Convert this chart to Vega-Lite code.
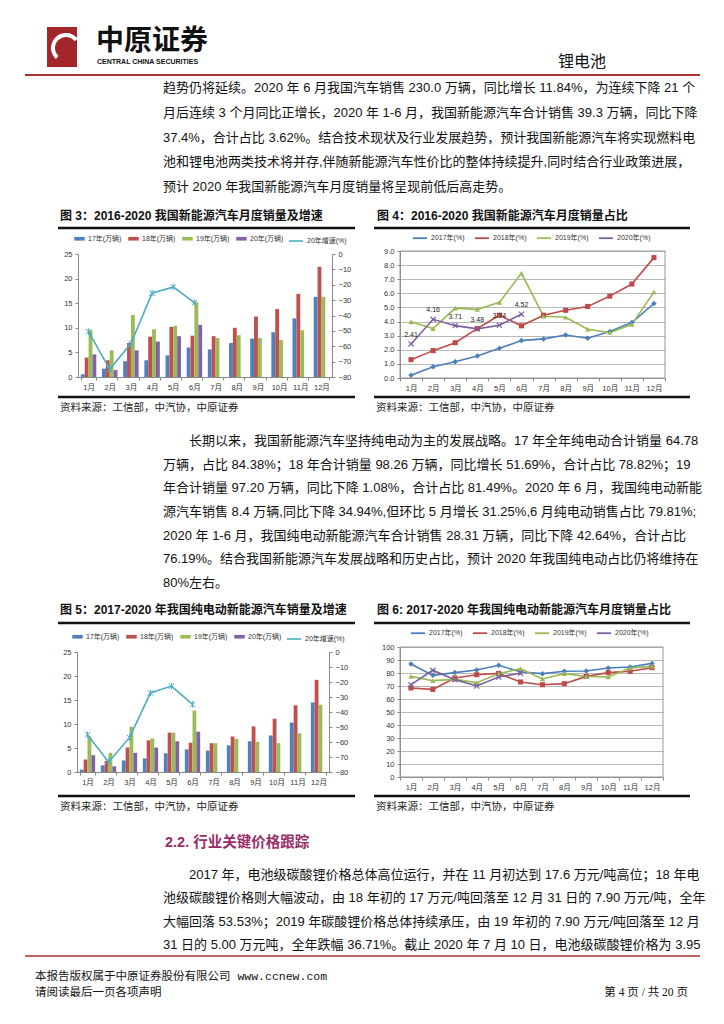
{
  "$schema": "https://vega.github.io/schema/vega-lite/v6.json",
  "width": 724, "height": 1024,
  "autosize": "none",
  "padding": 0,
  "background": "white",
  "config": {
    "view": {"stroke": null},
    "font": "Liberation Sans, Noto Sans CJK SC",
    "axis": {"labelFont": "Liberation Sans, Noto Sans CJK SC", "labelFontSize": 7.5, "labelColor": "#333", "domainColor": "#888", "tickColor": "#888", "tickSize": 3, "title": null, "labelFlush": false, "labelOverlap": false, "labelPadding": 3},
    "legend": {"labelFont": "Liberation Sans, Noto Sans CJK SC", "labelFontSize": 7, "labelColor": "#333", "title": null, "orient": "none", "direction": "horizontal", "columnPadding": 6, "labelOffset": 3}
  },
  "datasets": {
    "c3": [
      {"m":"1月","s":"17年(万辆)","v":0.55},{"m":"2月","s":"17年(万辆)","v":1.7},{"m":"3月","s":"17年(万辆)","v":3.2},{"m":"4月","s":"17年(万辆)","v":3.4},{"m":"5月","s":"17年(万辆)","v":4.4},{"m":"6月","s":"17年(万辆)","v":6.0},{"m":"7月","s":"17年(万辆)","v":5.6},{"m":"8月","s":"17年(万辆)","v":6.9},{"m":"9月","s":"17年(万辆)","v":7.8},{"m":"10月","s":"17年(万辆)","v":9.1},{"m":"11月","s":"17年(万辆)","v":11.9},{"m":"12月","s":"17年(万辆)","v":16.3},
      {"m":"1月","s":"18年(万辆)","v":3.95},{"m":"2月","s":"18年(万辆)","v":3.4},{"m":"3月","s":"18年(万辆)","v":6.9},{"m":"4月","s":"18年(万辆)","v":8.2},{"m":"5月","s":"18年(万辆)","v":10.2},{"m":"6月","s":"18年(万辆)","v":8.4},{"m":"7月","s":"18年(万辆)","v":8.3},{"m":"8月","s":"18年(万辆)","v":10.0},{"m":"9月","s":"18年(万辆)","v":12.3},{"m":"10月","s":"18年(万辆)","v":13.8},{"m":"11月","s":"18年(万辆)","v":16.9},{"m":"12月","s":"18年(万辆)","v":22.4},
      {"m":"1月","s":"19年(万辆)","v":9.5},{"m":"2月","s":"19年(万辆)","v":5.4},{"m":"3月","s":"19年(万辆)","v":12.6},{"m":"4月","s":"19年(万辆)","v":9.7},{"m":"5月","s":"19年(万辆)","v":10.4},{"m":"6月","s":"19年(万辆)","v":15.2},{"m":"7月","s":"19年(万辆)","v":7.9},{"m":"8月","s":"19年(万辆)","v":8.5},{"m":"9月","s":"19年(万辆)","v":7.9},{"m":"10月","s":"19年(万辆)","v":7.5},{"m":"11月","s":"19年(万辆)","v":9.5},{"m":"12月","s":"19年(万辆)","v":16.3},
      {"m":"1月","s":"20年(万辆)","v":4.6},{"m":"2月","s":"20年(万辆)","v":1.4},{"m":"3月","s":"20年(万辆)","v":5.4},{"m":"4月","s":"20年(万辆)","v":7.2},{"m":"5月","s":"20年(万辆)","v":8.3},{"m":"6月","s":"20年(万辆)","v":10.6}
    ],
    "c3g": [
      {"m":"1月","s":"20年增速(%)","g":-50.5},{"m":"2月","s":"20年增速(%)","g":-75},{"m":"3月","s":"20年增速(%)","g":-58.2},{"m":"4月","s":"20年增速(%)","g":-25.5},{"m":"5月","s":"20年增速(%)","g":-21.4},{"m":"6月","s":"20年增速(%)","g":-31.6}
    ],
    "c4": [
      {"m":"1月","s":"2017年(%)","v":0.2},{"m":"2月","s":"2017年(%)","v":0.8},{"m":"3月","s":"2017年(%)","v":1.15},{"m":"4月","s":"2017年(%)","v":1.56},{"m":"5月","s":"2017年(%)","v":2.1},{"m":"6月","s":"2017年(%)","v":2.65},{"m":"7月","s":"2017年(%)","v":2.77},{"m":"8月","s":"2017年(%)","v":3.05},{"m":"9月","s":"2017年(%)","v":2.82},{"m":"10月","s":"2017年(%)","v":3.3},{"m":"11月","s":"2017年(%)","v":3.93},{"m":"12月","s":"2017年(%)","v":5.28},
      {"m":"1月","s":"2018年(%)","v":1.3},{"m":"2月","s":"2018年(%)","v":1.94},{"m":"3月","s":"2018年(%)","v":2.5},{"m":"4月","s":"2018年(%)","v":3.5},{"m":"5月","s":"2018年(%)","v":4.45},{"m":"6月","s":"2018年(%)","v":3.7},{"m":"7月","s":"2018年(%)","v":4.45},{"m":"8月","s":"2018年(%)","v":4.8},{"m":"9月","s":"2018年(%)","v":5.07},{"m":"10月","s":"2018年(%)","v":5.8},{"m":"11月","s":"2018年(%)","v":6.66},{"m":"12月","s":"2018年(%)","v":8.53},
      {"m":"1月","s":"2019年(%)","v":3.98},{"m":"2月","s":"2019年(%)","v":3.5},{"m":"3月","s":"2019年(%)","v":4.95},{"m":"4月","s":"2019年(%)","v":4.86},{"m":"5月","s":"2019年(%)","v":5.36},{"m":"6月","s":"2019年(%)","v":7.42},{"m":"7月","s":"2019年(%)","v":4.38},{"m":"8月","s":"2019年(%)","v":4.31},{"m":"9月","s":"2019年(%)","v":3.46},{"m":"10月","s":"2019年(%)","v":3.22},{"m":"11月","s":"2019年(%)","v":3.8},{"m":"12月","s":"2019年(%)","v":6.1},
      {"m":"1月","s":"2020年(%)","v":2.41},{"m":"2月","s":"2020年(%)","v":4.16},{"m":"3月","s":"2020年(%)","v":3.71},{"m":"4月","s":"2020年(%)","v":3.48},{"m":"5月","s":"2020年(%)","v":3.74},{"m":"6月","s":"2020年(%)","v":4.52}
    ],
    "c5": [
      {"m":"1月","s":"17年(万辆)","v":0.5},{"m":"2月","s":"17年(万辆)","v":1.4},{"m":"3月","s":"17年(万辆)","v":2.4},{"m":"4月","s":"17年(万辆)","v":2.85},{"m":"5月","s":"17年(万辆)","v":3.9},{"m":"6月","s":"17年(万辆)","v":4.7},{"m":"7月","s":"17年(万辆)","v":4.45},{"m":"8月","s":"17年(万辆)","v":5.55},{"m":"9月","s":"17年(万辆)","v":6.4},{"m":"10月","s":"17年(万辆)","v":7.6},{"m":"11月","s":"17年(万辆)","v":10.3},{"m":"12月","s":"17年(万辆)","v":14.5},
      {"m":"1月","s":"18年(万辆)","v":2.6},{"m":"2月","s":"18年(万辆)","v":2.3},{"m":"3月","s":"18年(万辆)","v":5.1},{"m":"4月","s":"18年(万辆)","v":6.6},{"m":"5月","s":"18年(万辆)","v":8.2},{"m":"6月","s":"18年(万辆)","v":6.1},{"m":"7月","s":"18年(万辆)","v":6.0},{"m":"8月","s":"18年(万辆)","v":7.4},{"m":"9月","s":"18年(万辆)","v":9.5},{"m":"10月","s":"18年(万辆)","v":11.1},{"m":"11月","s":"18年(万辆)","v":13.9},{"m":"12月","s":"18年(万辆)","v":19.2},
      {"m":"1月","s":"19年(万辆)","v":7.4},{"m":"2月","s":"19年(万辆)","v":4.0},{"m":"3月","s":"19年(万辆)","v":9.4},{"m":"4月","s":"19年(万辆)","v":7.0},{"m":"5月","s":"19年(万辆)","v":8.2},{"m":"6月","s":"19年(万辆)","v":12.8},{"m":"7月","s":"19年(万辆)","v":6.0},{"m":"8月","s":"19年(万辆)","v":6.9},{"m":"9月","s":"19年(万辆)","v":6.25},{"m":"10月","s":"19年(万辆)","v":6.0},{"m":"11月","s":"19年(万辆)","v":8.05},{"m":"12月","s":"19年(万辆)","v":14.0},
      {"m":"1月","s":"20年(万辆)","v":3.5},{"m":"2月","s":"20年(万辆)","v":1.2},{"m":"3月","s":"20年(万辆)","v":4.0},{"m":"4月","s":"20年(万辆)","v":5.1},{"m":"5月","s":"20年(万辆)","v":6.4},{"m":"6月","s":"20年(万辆)","v":8.4}
    ],
    "c5g": [
      {"m":"1月","s":"20年增速(%)","g":-55.1},{"m":"2月","s":"20年增速(%)","g":-73.3},{"m":"3月","s":"20年增速(%)","g":-57.1},{"m":"4月","s":"20年增速(%)","g":-27.3},{"m":"5月","s":"20年增速(%)","g":-22.7},{"m":"6月","s":"20年增速(%)","g":-34.9}
    ],
    "c6": [
      {"m":"1月","s":"2017年(%)","v":86.9},{"m":"2月","s":"2017年(%)","v":78.2},{"m":"3月","s":"2017年(%)","v":80.3},{"m":"4月","s":"2017年(%)","v":82.3},{"m":"5月","s":"2017年(%)","v":85.9},{"m":"6月","s":"2017年(%)","v":80.8},{"m":"7月","s":"2017年(%)","v":79.5},{"m":"8月","s":"2017年(%)","v":81.3},{"m":"9月","s":"2017年(%)","v":81.5},{"m":"10月","s":"2017年(%)","v":83.8},{"m":"11月","s":"2017年(%)","v":84.6},{"m":"12月","s":"2017年(%)","v":87.4},
      {"m":"1月","s":"2018年(%)","v":68.5},{"m":"2月","s":"2018年(%)","v":67.4},{"m":"3月","s":"2018年(%)","v":76.2},{"m":"4月","s":"2018年(%)","v":78.7},{"m":"5月","s":"2018年(%)","v":79.7},{"m":"6月","s":"2018年(%)","v":73.1},{"m":"7月","s":"2018年(%)","v":71.0},{"m":"8月","s":"2018年(%)","v":71.8},{"m":"9月","s":"2018年(%)","v":77.4},{"m":"10月","s":"2018年(%)","v":80.3},{"m":"11月","s":"2018年(%)","v":81.3},{"m":"12月","s":"2018年(%)","v":84.1},
      {"m":"1月","s":"2019年(%)","v":77.4},{"m":"2月","s":"2019年(%)","v":74.1},{"m":"3月","s":"2019年(%)","v":75.1},{"m":"4月","s":"2019年(%)","v":72.6},{"m":"5月","s":"2019年(%)","v":79.5},{"m":"6月","s":"2019年(%)","v":83.3},{"m":"7月","s":"2019年(%)","v":75.4},{"m":"8月","s":"2019年(%)","v":79.5},{"m":"9月","s":"2019年(%)","v":77.4},{"m":"10月","s":"2019年(%)","v":76.9},{"m":"11月","s":"2019年(%)","v":83.8},{"m":"12月","s":"2019年(%)","v":85.1},
      {"m":"1月","s":"2020年(%)","v":71.0},{"m":"2月","s":"2020年(%)","v":82.1},{"m":"3月","s":"2020年(%)","v":74.9},{"m":"4月","s":"2020年(%)","v":70.0},{"m":"5月","s":"2020年(%)","v":76.9},{"m":"6月","s":"2020年(%)","v":79.8}
    ]
  },
  "layer": [
    {"data": {"values": [{}]}, "mark": {"type": "rect", "color": "#A3262A"}, "encoding": {"x": {"value": 47}, "x2": {"value": 77}, "y": {"value": 27}, "y2": {"value": 67}}},
    {"data": {"values": [{}]}, "mark": {"type": "arc", "color": "white", "radius": 15, "radius2": 11, "theta": -2.4, "theta2": 0.9}, "encoding": {"x": {"value": 66}, "y": {"value": 48}}},
    {"data": {"values": [{"t": "中原证券"}]}, "mark": {"type": "text", "align": "left", "baseline": "middle", "fontSize": 28, "fontWeight": "bold", "font": "Noto Sans CJK SC", "color": "#111"}, "encoding": {"x": {"value": 96}, "y": {"value": 42}, "text": {"field": "t"}}},
    {"data": {"values": [{"t": "CENTRAL CHINA SECURITIES"}]}, "mark": {"type": "text", "align": "left", "baseline": "middle", "fontSize": 7, "fontWeight": "bold", "font": "Liberation Sans", "color": "#111"}, "encoding": {"x": {"value": 97}, "y": {"value": 62}, "text": {"field": "t"}}},
    {"data": {"values": [{"t": "锂电池"}]}, "mark": {"type": "text", "align": "center", "baseline": "middle", "fontSize": 16, "font": "Noto Sans CJK SC", "color": "#111"}, "encoding": {"x": {"value": 582}, "y": {"value": 62}, "text": {"field": "t"}}},
    {"data": {"values": [{}]}, "mark": {"type": "rule", "color": "#A8322D", "strokeWidth": 2}, "encoding": {"x": {"value": 25}, "x2": {"value": 700}, "y": {"value": 75}}},
    {
      "data": {"values": [
        {"line": 1, "t": "趋势仍将延续。2020 年 6 月我国汽车销售 230.0 万辆，同比增长 11.84%，为连续下降 21 个"},
        {"line": 2, "t": "月后连续 3 个月同比正增长，2020 年 1-6 月，我国新能源汽车合计销售 39.3 万辆，同比下降"},
        {"line": 3, "t": "37.4%，合计占比 3.62%。结合技术现状及行业发展趋势，预计我国新能源汽车将实现燃料电"},
        {"line": 4, "t": "池和锂电池两类技术将并存,伴随新能源汽车性价比的整体持续提升,同时结合行业政策进展，"},
        {"line": 5, "t": "预计 2020 年我国新能源汽车月度销量将呈现前低后高走势。"}
      ]},
      "mark": {"type": "text", "align": "left", "baseline": "middle", "fontSize": 13, "color": "#111"},
      "encoding": {
        "x": {"value": 163},
        "y": {"field": "line", "type": "quantitative", "scale": {"domain": [1, 5], "range": [88, 187], "nice": false, "zero": false}, "axis": null},
        "text": {"field": "t"}
      }
    },
    {"data": {"values": [{"t": "图 3：2016-2020 我国新能源汽车月度销量及增速"}]}, "mark": {"type": "text", "align": "left", "baseline": "middle", "fontSize": 12, "fontWeight": "bold", "color": "#111"}, "encoding": {"x": {"value": 60}, "y": {"value": 216}, "text": {"field": "t"}}},
    {"data": {"values": [{"t": "图 4：2016-2020 我国新能源汽车月度销量占比"}]}, "mark": {"type": "text", "align": "left", "baseline": "middle", "fontSize": 12, "fontWeight": "bold", "color": "#111"}, "encoding": {"x": {"value": 377}, "y": {"value": 216}, "text": {"field": "t"}}},
    {"data": {"values": [{}]}, "mark": {"type": "rule", "color": "#111", "strokeWidth": 2.5}, "encoding": {"x": {"value": 58}, "x2": {"value": 355}, "y": {"value": 228}}},
    {"data": {"values": [{}]}, "mark": {"type": "rule", "color": "#111", "strokeWidth": 2.5}, "encoding": {"x": {"value": 374}, "x2": {"value": 690}, "y": {"value": 228}}},
    {
      "layer": [
        {
          "data": {"name": "c3"},
          "mark": {"type": "bar"},
          "encoding": {
            "x": {"field": "m", "type": "nominal", "scale": {"domain": ["1月","2月","3月","4月","5月","6月","7月","8月","9月","10月","11月","12月"], "range": [78, 332], "paddingInner": 0.27, "paddingOuter": 0.135}, "axis": {"orient": "bottom", "offset": -647, "labelAngle": 0, "tickBand": "extent"}},
            "xOffset": {"field": "s", "type": "nominal", "scale": {"domain": ["17年(万辆)","18年(万辆)","19年(万辆)","20年(万辆)"], "paddingInner": 0, "paddingOuter": 0}},
            "y": {"field": "v", "type": "quantitative", "scale": {"domain": [0, 25], "range": [377, 254], "nice": false, "zero": false}, "axis": {"orient": "left", "offset": -78, "values": [0,5,10,15,20,25], "grid": false}},
            "fill": {"field": "s", "type": "nominal", "scale": {"domain": ["17年(万辆)","18年(万辆)","19年(万辆)","20年(万辆)"], "range": ["#4F81BD","#C0504D","#9BBB59","#8064A2"]}, "legend": {"legendX": 74, "legendY": 233, "symbolType": "M-1,-0.35H1V0.35H-1Z", "symbolSize": 110, "symbolStrokeWidth": 0}}
          }
        },
        {
          "data": {"name": "c3g"},
          "mark": {"type": "line", "strokeWidth": 1.6, "point": {"shape": "M-1,-1L1,1M1,-1L-1,1M0,-1.2L0,1.2", "filled": false, "size": 30, "strokeWidth": 1}},
          "encoding": {
            "x": {"field": "m", "type": "nominal", "scale": {"domain": ["1月","2月","3月","4月","5月","6月","7月","8月","9月","10月","11月","12月"], "range": [78, 332], "paddingInner": 0.27, "paddingOuter": 0.135}, "axis": {"orient": "bottom", "offset": -647, "labelAngle": 0, "tickBand": "extent"}},
            "y": {"field": "g", "type": "quantitative", "scale": {"domain": [-80, 0], "range": [377, 254], "nice": false, "zero": false}, "axis": {"orient": "right", "offset": -392, "values": [0,-10,-20,-30,-40,-50,-60,-70,-80], "grid": false}},
            "stroke": {"field": "s", "type": "nominal", "scale": {"range": ["#4BACC6"]}, "legend": {"legendX": 288, "legendY": 233, "symbolType": "stroke", "symbolStrokeWidth": 1.6, "symbolSize": 200}}
          }
        }
      ],
      "resolve": {"scale": {"y": "independent"}}
    },
    {"data": {"values": [{}]}, "mark": {"type": "rect", "fill": null, "stroke": "#999", "strokeWidth": 1}, "encoding": {"x": {"value": 400}, "x2": {"value": 665}, "y": {"value": 251}, "y2": {"value": 378}}},
    {
      "data": {"name": "c4"},
      "encoding": {
        "x": {"field": "m", "type": "nominal", "scale": {"domain": ["1月","2月","3月","4月","5月","6月","7月","8月","9月","10月","11月","12月"], "range": [400, 665]}, "axis": {"orient": "bottom", "offset": -646, "labelAngle": 0, "tickBand": "extent"}},
        "y": {"field": "v", "type": "quantitative", "scale": {"domain": [0, 9], "range": [378, 251], "nice": false, "zero": false}, "axis": {"orient": "left", "offset": -400, "values": [0,1,2,3,4,5,6,7,8,9], "format": ".1f", "grid": true, "gridColor": "#999", "gridWidth": 0.7}}
      },
      "layer": [
        {
          "mark": {"type": "line", "strokeWidth": 1.6},
          "encoding": {
            "color": {"field": "s", "type": "nominal", "scale": {"domain": ["2017年(%)","2018年(%)","2019年(%)","2020年(%)"], "range": ["#4A7EBB","#BE4B48","#98B954","#7D60A0"]}, "legend": {"legendX": 412, "legendY": 230, "symbolType": "stroke", "symbolStrokeWidth": 1.8, "symbolSize": 200}}
          }
        },
        {"transform": [{"filter": "datum.s === '2017年(%)'"}], "mark": {"type": "point", "shape": "diamond", "filled": true, "size": 30, "opacity": 1, "color": "#4A7EBB"}},
        {"transform": [{"filter": "datum.s === '2018年(%)'"}], "mark": {"type": "point", "shape": "square", "filled": true, "size": 26, "opacity": 1, "color": "#BE4B48"}},
        {"transform": [{"filter": "datum.s === '2019年(%)'"}], "mark": {"type": "point", "shape": "triangle-up", "filled": true, "size": 28, "opacity": 1, "color": "#98B954"}},
        {"transform": [{"filter": "datum.s === '2020年(%)'"}], "mark": {"type": "point", "shape": "M-1,-1L1,1M1,-1L-1,1", "filled": false, "size": 26, "opacity": 1, "strokeWidth": 1.2, "color": "#7D60A0"}},
        {
          "transform": [{"filter": "datum.s === '2020年(%)'"}],
          "mark": {"type": "text", "dy": -9, "fontSize": 7, "color": "#222"},
          "encoding": {"text": {"field": "v", "type": "quantitative", "format": ".2f"}}
        }
      ]
    },
    {"data": {"values": [{}]}, "mark": {"type": "rule", "color": "#111", "strokeWidth": 2.5}, "encoding": {"x": {"value": 58}, "x2": {"value": 355}, "y": {"value": 397}}},
    {"data": {"values": [{}]}, "mark": {"type": "rule", "color": "#111", "strokeWidth": 2.5}, "encoding": {"x": {"value": 374}, "x2": {"value": 690}, "y": {"value": 397}}},
    {"data": {"values": [{"t": "资料来源：工信部，中汽协，中原证券"}]}, "mark": {"type": "text", "align": "left", "baseline": "middle", "fontSize": 10.5, "color": "#222"}, "encoding": {"x": {"value": 60}, "y": {"value": 408}, "text": {"field": "t"}}},
    {"data": {"values": [{"t": "资料来源：工信部，中汽协，中原证券"}]}, "mark": {"type": "text", "align": "left", "baseline": "middle", "fontSize": 10.5, "color": "#222"}, "encoding": {"x": {"value": 376}, "y": {"value": 408}, "text": {"field": "t"}}},
    {"data": {"values": [{"t": "长期以来，我国新能源汽车坚持纯电动为主的发展战略。17 年全年纯电动合计销量 64.78"}]}, "mark": {"type": "text", "align": "left", "baseline": "middle", "fontSize": 13, "color": "#111"}, "encoding": {"x": {"value": 189}, "y": {"value": 441}, "text": {"field": "t"}}},
    {
      "data": {"values": [
        {"line": 2, "t": "万辆，占比 84.38%；18 年合计销量 98.26 万辆，同比增长 51.69%，合计占比 78.82%；19"},
        {"line": 3, "t": "年合计销量 97.20 万辆，同比下降 1.08%，合计占比 81.49%。2020 年 6 月，我国纯电动新能"},
        {"line": 4, "t": "源汽车销售 8.4 万辆,同比下降 34.94%,但环比 5 月增长 31.25%,6 月纯电动销售占比 79.81%;"},
        {"line": 5, "t": "2020 年 1-6 月，我国纯电动新能源汽车合计销售 28.31 万辆，同比下降 42.64%，合计占比"},
        {"line": 6, "t": "76.19%。结合我国新能源汽车发展战略和历史占比，预计 2020 年我国纯电动占比仍将维持在"},
        {"line": 7, "t": "80%左右。"}
      ]},
      "mark": {"type": "text", "align": "left", "baseline": "middle", "fontSize": 13, "color": "#111"},
      "encoding": {
        "x": {"value": 163},
        "y": {"field": "line", "type": "quantitative", "scale": {"domain": [2, 7], "range": [464.7, 583], "nice": false, "zero": false}, "axis": null},
        "text": {"field": "t"}
      }
    },
    {"data": {"values": [{"t": "图 5：2017-2020 年我国纯电动新能源汽车销量及增速"}]}, "mark": {"type": "text", "align": "left", "baseline": "middle", "fontSize": 12, "fontWeight": "bold", "color": "#111"}, "encoding": {"x": {"value": 60}, "y": {"value": 610}, "text": {"field": "t"}}},
    {"data": {"values": [{"t": "图 6: 2017-2020 年我国纯电动新能源汽车月度销量占比"}]}, "mark": {"type": "text", "align": "left", "baseline": "middle", "fontSize": 12, "fontWeight": "bold", "color": "#111"}, "encoding": {"x": {"value": 377}, "y": {"value": 610}, "text": {"field": "t"}}},
    {"data": {"values": [{}]}, "mark": {"type": "rule", "color": "#111", "strokeWidth": 2.5}, "encoding": {"x": {"value": 58}, "x2": {"value": 355}, "y": {"value": 623}}},
    {"data": {"values": [{}]}, "mark": {"type": "rule", "color": "#111", "strokeWidth": 2.5}, "encoding": {"x": {"value": 374}, "x2": {"value": 690}, "y": {"value": 623}}},
    {
      "layer": [
        {
          "data": {"name": "c5"},
          "mark": {"type": "bar"},
          "encoding": {
            "x": {"field": "m", "type": "nominal", "scale": {"domain": ["1月","2月","3月","4月","5月","6月","7月","8月","9月","10月","11月","12月"], "range": [77, 329], "paddingInner": 0.27, "paddingOuter": 0.135}, "axis": {"orient": "bottom", "offset": -252, "labelAngle": 0, "tickBand": "extent"}},
            "xOffset": {"field": "s", "type": "nominal", "scale": {"domain": ["17年(万辆)","18年(万辆)","19年(万辆)","20年(万辆)"], "paddingInner": 0, "paddingOuter": 0}},
            "y": {"field": "v", "type": "quantitative", "scale": {"domain": [0, 25], "range": [772, 652], "nice": false, "zero": false}, "axis": {"orient": "left", "offset": -77, "values": [0,5,10,15,20,25], "grid": false}},
            "fill": {"field": "s", "type": "nominal", "scale": {"domain": ["17年(万辆)","18年(万辆)","19年(万辆)","20年(万辆)"], "range": ["#4F81BD","#C0504D","#9BBB59","#8064A2"]}, "legend": {"legendX": 72, "legendY": 631, "symbolType": "M-1,-0.35H1V0.35H-1Z", "symbolSize": 110, "symbolStrokeWidth": 0}}
          }
        },
        {
          "data": {"name": "c5g"},
          "mark": {"type": "line", "strokeWidth": 1.6, "point": {"shape": "M-1,-1L1,1M1,-1L-1,1M0,-1.2L0,1.2", "filled": false, "size": 30, "strokeWidth": 1}},
          "encoding": {
            "x": {"field": "m", "type": "nominal", "scale": {"domain": ["1月","2月","3月","4月","5月","6月","7月","8月","9月","10月","11月","12月"], "range": [77, 329], "paddingInner": 0.27, "paddingOuter": 0.135}, "axis": {"orient": "bottom", "offset": -252, "labelAngle": 0, "tickBand": "extent"}},
            "y": {"field": "g", "type": "quantitative", "scale": {"domain": [-80, 0], "range": [772, 652], "nice": false, "zero": false}, "axis": {"orient": "right", "offset": -395, "values": [0,-10,-20,-30,-40,-50,-60,-70,-80], "grid": false}},
            "stroke": {"field": "s", "type": "nominal", "scale": {"range": ["#4BACC6"]}, "legend": {"legendX": 286, "legendY": 631, "symbolType": "stroke", "symbolStrokeWidth": 1.6, "symbolSize": 200}}
          }
        }
      ],
      "resolve": {"scale": {"y": "independent"}}
    },
    {"data": {"values": [{}]}, "mark": {"type": "rect", "fill": null, "stroke": "#999", "strokeWidth": 1}, "encoding": {"x": {"value": 400}, "x2": {"value": 663}, "y": {"value": 647}, "y2": {"value": 777}}},
    {
      "data": {"name": "c6"},
      "encoding": {
        "x": {"field": "m", "type": "nominal", "scale": {"domain": ["1月","2月","3月","4月","5月","6月","7月","8月","9月","10月","11月","12月"], "range": [400, 663]}, "axis": {"orient": "bottom", "offset": -247, "labelAngle": 0, "tickBand": "extent"}},
        "y": {"field": "v", "type": "quantitative", "scale": {"domain": [0, 100], "range": [777, 647], "nice": false, "zero": false}, "axis": {"orient": "left", "offset": -400, "values": [0,10,20,30,40,50,60,70,80,90,100], "grid": true, "gridColor": "#999", "gridWidth": 0.7}}
      },
      "layer": [
        {
          "mark": {"type": "line", "strokeWidth": 1.6},
          "encoding": {
            "color": {"field": "s", "type": "nominal", "scale": {"domain": ["2017年(%)","2018年(%)","2019年(%)","2020年(%)"], "range": ["#4A7EBB","#BE4B48","#98B954","#7D60A0"]}, "legend": {"legendX": 410, "legendY": 625, "symbolType": "stroke", "symbolStrokeWidth": 1.8, "symbolSize": 200}}
          }
        },
        {"transform": [{"filter": "datum.s === '2017年(%)'"}], "mark": {"type": "point", "shape": "diamond", "filled": true, "size": 30, "opacity": 1, "color": "#4A7EBB"}},
        {"transform": [{"filter": "datum.s === '2018年(%)'"}], "mark": {"type": "point", "shape": "square", "filled": true, "size": 26, "opacity": 1, "color": "#BE4B48"}},
        {"transform": [{"filter": "datum.s === '2019年(%)'"}], "mark": {"type": "point", "shape": "triangle-up", "filled": true, "size": 28, "opacity": 1, "color": "#98B954"}},
        {"transform": [{"filter": "datum.s === '2020年(%)'"}], "mark": {"type": "point", "shape": "M-1,-1L1,1M1,-1L-1,1", "filled": false, "size": 26, "opacity": 1, "strokeWidth": 1.2, "color": "#7D60A0"}}
      ]
    },
    {"data": {"values": [{}]}, "mark": {"type": "rule", "color": "#111", "strokeWidth": 2.5}, "encoding": {"x": {"value": 58}, "x2": {"value": 355}, "y": {"value": 796}}},
    {"data": {"values": [{}]}, "mark": {"type": "rule", "color": "#111", "strokeWidth": 2.5}, "encoding": {"x": {"value": 374}, "x2": {"value": 690}, "y": {"value": 796}}},
    {"data": {"values": [{"t": "资料来源：工信部，中汽协，中原证券"}]}, "mark": {"type": "text", "align": "left", "baseline": "middle", "fontSize": 10.5, "color": "#222"}, "encoding": {"x": {"value": 60}, "y": {"value": 807}, "text": {"field": "t"}}},
    {"data": {"values": [{"t": "资料来源：工信部，中汽协，中原证券"}]}, "mark": {"type": "text", "align": "left", "baseline": "middle", "fontSize": 10.5, "color": "#222"}, "encoding": {"x": {"value": 376}, "y": {"value": 807}, "text": {"field": "t"}}},
    {"data": {"values": [{"t": "2.2. 行业关键价格跟踪"}]}, "mark": {"type": "text", "align": "left", "baseline": "middle", "fontSize": 14.5, "fontWeight": "bold", "color": "#9B2D6A"}, "encoding": {"x": {"value": 165}, "y": {"value": 843}, "text": {"field": "t"}}},
    {"data": {"values": [{"t": "2017 年，电池级碳酸锂价格总体高位运行，并在 11 月初达到 17.6 万元/吨高位；18 年电"}]}, "mark": {"type": "text", "align": "left", "baseline": "middle", "fontSize": 13, "color": "#111"}, "encoding": {"x": {"value": 189}, "y": {"value": 875}, "text": {"field": "t"}}},
    {
      "data": {"values": [
        {"line": 2, "t": "池级碳酸锂价格则大幅波动，由 18 年初的 17 万元/吨回落至 12 月 31 日的 7.90 万元/吨，全年"},
        {"line": 3, "t": "大幅回落 53.53%；2019 年碳酸锂价格总体持续承压，由 19 年初的 7.90 万元/吨回落至 12 月"},
        {"line": 4, "t": "31 日的 5.00 万元吨，全年跌幅 36.71%。截止 2020 年 7 月 10 日，电池级碳酸锂价格为 3.95"}
      ]},
      "mark": {"type": "text", "align": "left", "baseline": "middle", "fontSize": 13, "color": "#111"},
      "encoding": {
        "x": {"value": 163},
        "y": {"field": "line", "type": "quantitative", "scale": {"domain": [2, 4], "range": [898.3, 945], "nice": false, "zero": false}, "axis": null},
        "text": {"field": "t"}
      }
    },
    {"data": {"values": [{}]}, "mark": {"type": "rule", "color": "#A8322D", "strokeWidth": 1.5}, "encoding": {"x": {"value": 25}, "x2": {"value": 700}, "y": {"value": 956}}},
    {"data": {"values": [{"t": "本报告版权属于中原证券股份有限公司    www.ccnew.com"}]}, "mark": {"type": "text", "align": "left", "baseline": "middle", "fontSize": 11.5, "font": "Liberation Mono, Noto Sans CJK SC", "color": "#111"}, "encoding": {"x": {"value": 35}, "y": {"value": 977}, "text": {"field": "t"}}},
    {"data": {"values": [{"t": "请阅读最后一页各项声明"}]}, "mark": {"type": "text", "align": "left", "baseline": "middle", "fontSize": 11.5, "font": "Noto Sans CJK SC", "color": "#111"}, "encoding": {"x": {"value": 35}, "y": {"value": 993}, "text": {"field": "t"}}},
    {"data": {"values": [{"t": "第 4 页 / 共 20 页"}]}, "mark": {"type": "text", "align": "right", "baseline": "middle", "fontSize": 11.5, "font": "Liberation Serif, Noto Sans CJK SC", "color": "#111"}, "encoding": {"x": {"value": 688}, "y": {"value": 993}, "text": {"field": "t"}}}
  ],
  "resolve": {"scale": {"x": "independent", "y": "independent", "xOffset": "independent", "color": "independent", "fill": "independent", "stroke": "independent", "shape": "independent"}}
}
